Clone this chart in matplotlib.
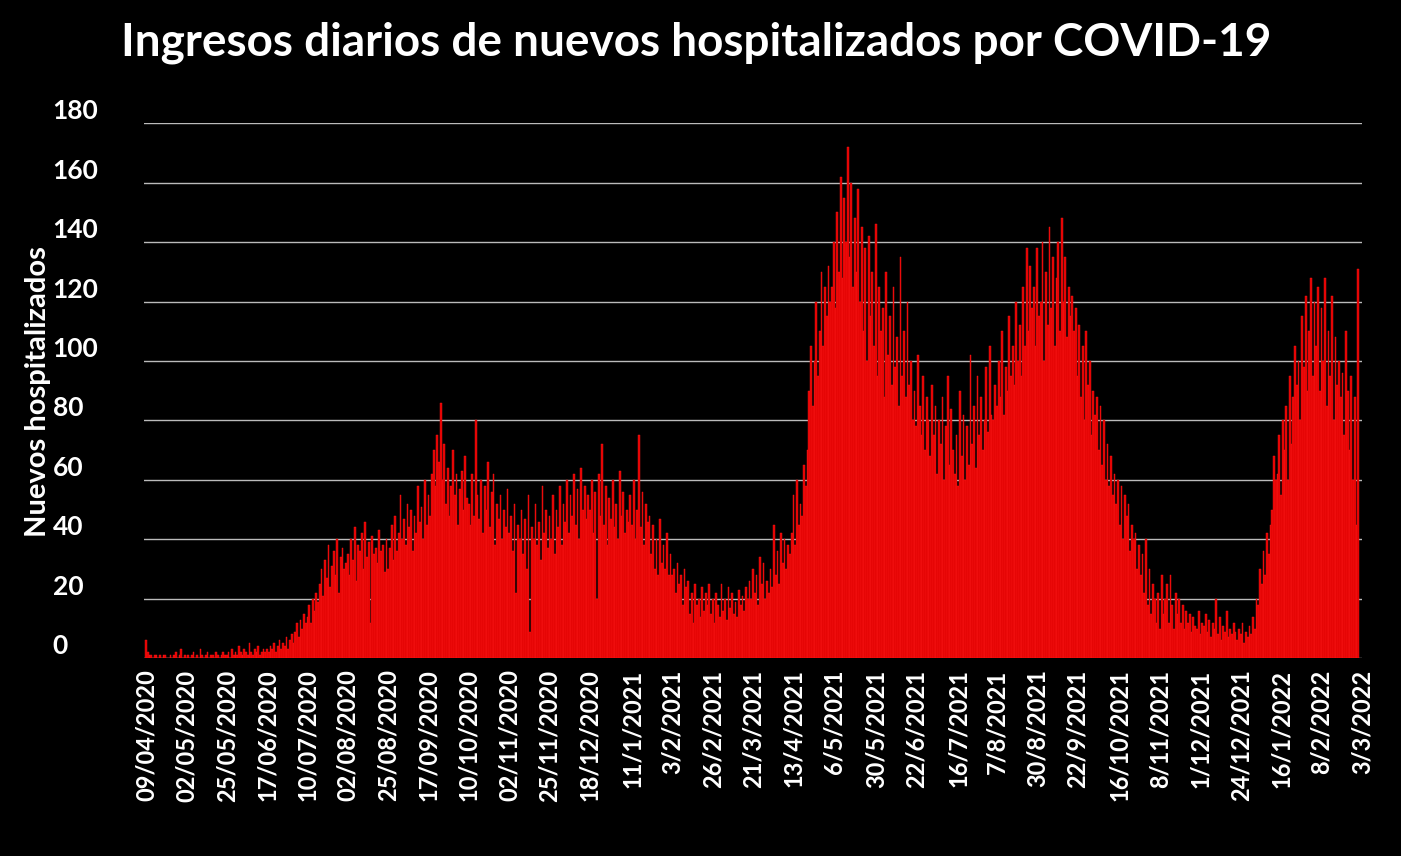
import numpy as np
import pandas as pd
import matplotlib
matplotlib.use("Agg")
import matplotlib.pyplot as plt
from matplotlib.transforms import ScaledTranslation

# daily new hospital admissions, one block per tick interval
p01 = [6, 2, 1, 1, 0, 1, 1, 0, 1, 0, 1, 1, 0, 0, 1, 0, 1, 2, 0, 1, 3, 0, 1]
p02 = [0, 1, 0, 1, 2, 0, 1, 0, 3, 1, 0, 1, 2, 0, 1, 1, 0, 2, 1, 0, 1, 2, 1]
p03 = [1, 2, 0, 3, 1, 2, 1, 4, 2, 1, 3, 2, 1, 5, 2, 1, 3, 2, 4, 1, 2, 3, 2]
p04 = [3, 2, 4, 3, 5, 2, 4, 6, 3, 5, 4, 7, 3, 6, 8, 5, 9, 12, 7, 13, 10, 15, 12]
p05 = [14, 18, 12, 20, 16, 22, 19, 25, 30, 21, 33, 27, 38, 24, 31, 36, 28, 40, 22, 34, 37, 30, 32]
p06 = [35, 28, 40, 33, 44, 26, 38, 36, 42, 30, 46, 34, 39, 12, 41, 35, 37, 32, 43, 36, 38, 29, 40]
p07 = [30, 37, 45, 33, 48, 36, 42, 55, 40, 47, 38, 52, 44, 50, 36, 48, 42, 58, 46, 51, 40, 60, 45]
p08 = [55, 48, 62, 70, 58, 75, 66, 86, 60, 72, 52, 64, 48, 58, 70, 55, 62, 45, 57, 63, 50, 68, 54]
p09 = [52, 45, 62, 48, 80, 55, 47, 60, 42, 58, 50, 66, 44, 56, 62, 38, 52, 47, 55, 40, 50, 44, 57]
p10 = [42, 48, 36, 52, 22, 45, 40, 50, 35, 47, 30, 55, 9, 44, 40, 52, 38, 46, 33, 58, 42, 50, 37]
p11 = [48, 40, 55, 35, 50, 44, 58, 38, 52, 46, 60, 42, 55, 48, 62, 45, 57, 40, 64, 50, 58, 47, 55]
p12 = [50, 60, 42, 56, 20, 62, 48, 72, 45, 58, 38, 54, 47, 60, 44, 52, 40, 63, 48, 56, 42, 50, 46]
p13 = [55, 45, 60, 40, 50, 75, 44, 56, 38, 52, 46, 48, 35, 45, 30, 40, 28, 47, 32, 38, 30, 42, 28]
p14 = [35, 28, 30, 22, 32, 25, 28, 18, 30, 24, 26, 15, 22, 12, 25, 18, 20, 14, 24, 16, 22, 18, 25]
p15 = [15, 20, 12, 22, 18, 14, 25, 16, 20, 13, 24, 17, 22, 15, 19, 14, 23, 18, 21, 16, 24, 20, 26]
p16 = [20, 30, 22, 28, 18, 34, 25, 32, 20, 26, 22, 30, 24, 45, 28, 36, 25, 42, 32, 40, 30, 38, 35]
p17 = [42, 55, 38, 60, 45, 52, 48, 65, 58, 70, 90, 105, 85, 100, 120, 95, 110, 130, 105, 125, 115, 132, 120]
p18 = [125, 140, 118, 150, 130, 162, 128, 155, 140, 172, 135, 160, 125, 148, 130, 158, 120, 145, 110, 138, 100, 142, 115, 130]
p19 = [105, 146, 95, 125, 110, 118, 88, 130, 102, 115, 92, 125, 98, 108, 85, 135, 95, 110, 88, 120, 92, 100, 80]
p20 = [90, 78, 102, 85, 75, 95, 70, 88, 80, 68, 92, 75, 85, 62, 80, 72, 88, 60, 78, 95, 65, 84, 70]
p21 = [62, 75, 58, 90, 68, 82, 60, 78, 65, 102, 72, 85, 64, 95, 75, 88, 70, 80, 98, 76, 105, 82]
p22 = [80, 92, 85, 100, 88, 110, 82, 98, 90, 115, 95, 105, 92, 120, 100, 112, 95, 125, 105, 138, 110, 132, 118]
p23 = [125, 105, 138, 115, 120, 140, 100, 130, 112, 145, 118, 135, 105, 128, 140, 110, 148, 120, 135, 108, 125, 115, 122]
p24 = [110, 118, 95, 112, 88, 105, 80, 110, 92, 100, 75, 90, 82, 88, 70, 85, 65, 80, 60, 72, 58, 68, 55, 62]
p25 = [52, 60, 45, 58, 40, 55, 48, 52, 36, 45, 40, 42, 30, 38, 28, 35, 22, 40, 18, 30, 15, 25, 20]
p26 = [12, 22, 10, 28, 15, 20, 25, 12, 28, 18, 10, 22, 15, 20, 12, 18, 10, 16, 12, 15, 9, 14, 11]
p27 = [10, 16, 8, 12, 11, 15, 9, 13, 7, 12, 10, 20, 8, 14, 6, 11, 9, 16, 7, 10, 8, 12, 9]
p28 = [6, 10, 8, 12, 5, 9, 7, 11, 8, 14, 10, 20, 18, 30, 25, 36, 28, 42, 35, 45, 50, 68, 60]
p29 = [62, 75, 55, 80, 70, 85, 60, 95, 72, 88, 105, 92, 100, 80, 115, 98, 122, 90, 110, 128, 95, 120, 105]
p30 = [125, 90, 118, 100, 128, 85, 110, 95, 122, 80, 108, 92, 100, 88, 96, 75, 110, 90, 70, 95, 60, 88, 45, 131]

tick_labels = ["09/04/2020", "02/05/2020", "25/05/2020", "17/06/2020", "10/07/2020",
               "02/08/2020", "25/08/2020", "17/09/2020", "10/10/2020", "02/11/2020",
               "25/11/2020", "18/12/2020", "11/1/2021", "3/2/2021", "26/2/2021",
               "21/3/2021", "13/4/2021", "6/5/2021", "30/5/2021", "22/6/2021",
               "16/7/2021", "7/8/2021", "30/8/2021", "22/9/2021", "16/10/2021",
               "8/11/2021", "1/12/2021", "24/12/2021", "16/1/2022", "8/2/2022", "3/3/2022"]

values = (p01 + p02 + p03 + p04 + p05 + p06 + p07 + p08 + p09 + p10 + p11 + p12 + p13
          + p14 + p15 + p16 + p17 + p18 + p19 + p20 + p21 + p22 + p23 + p24 + p25
          + p26 + p27 + p28 + p29 + p30)
dates = pd.date_range("2020-04-09", periods=len(values), freq="D")
tick_dates = pd.to_datetime(tick_labels, format="%d/%m/%Y")

plt.rcParams['font.family'] = ['Lato', 'DejaVu Sans']
fig = plt.figure(figsize=(14.01, 8.56), dpi=100, facecolor='black')
ax = fig.add_axes([0.103, 0.231, 0.869, 0.625], facecolor='black')

ax.bar(dates, values, width=1.0, color='#e00000', edgecolor='#ff1a1a', linewidth=0.3, zorder=2)

ax.set_ylim(0, 180)
ax.set_yticks(range(0, 181, 20))
ax.yaxis.grid(True, color='#bbbbbb', linewidth=1, zorder=0)
ax.set_xlim(dates[0] - pd.Timedelta(days=1), dates[-1] + pd.Timedelta(days=1))
ax.set_xticks(tick_dates)
ax.set_xticklabels(tick_labels, rotation=90, fontsize=17, fontweight='bold', color='white')
shift = ScaledTranslation(0, 0.06, fig.dpi_scale_trans)
for lbl in ax.get_yticklabels():
    lbl.set_fontsize(19)
    lbl.set_fontweight('bold')
    lbl.set_color('white')
    lbl.set_horizontalalignment('left')
    lbl.set_verticalalignment('bottom')
    lbl.set_transform(lbl.get_transform() + shift)
ax.tick_params(axis='y', length=0, pad=66)
ax.tick_params(axis='x', length=0, pad=8)
for s in ax.spines.values():
    s.set_visible(False)

fig.text(0.027, 0.543, "Nuevos hospitalizados", rotation=90, ha='center', va='center',
         fontsize=21, fontweight='bold', color='white')
fig.suptitle("Ingresos diarios de nuevos hospitalizados por COVID-19", x=0.497, y=0.975,
             fontsize=33, fontweight='bold', color='white')

fig.savefig("out.png", dpi=100, facecolor='black')
